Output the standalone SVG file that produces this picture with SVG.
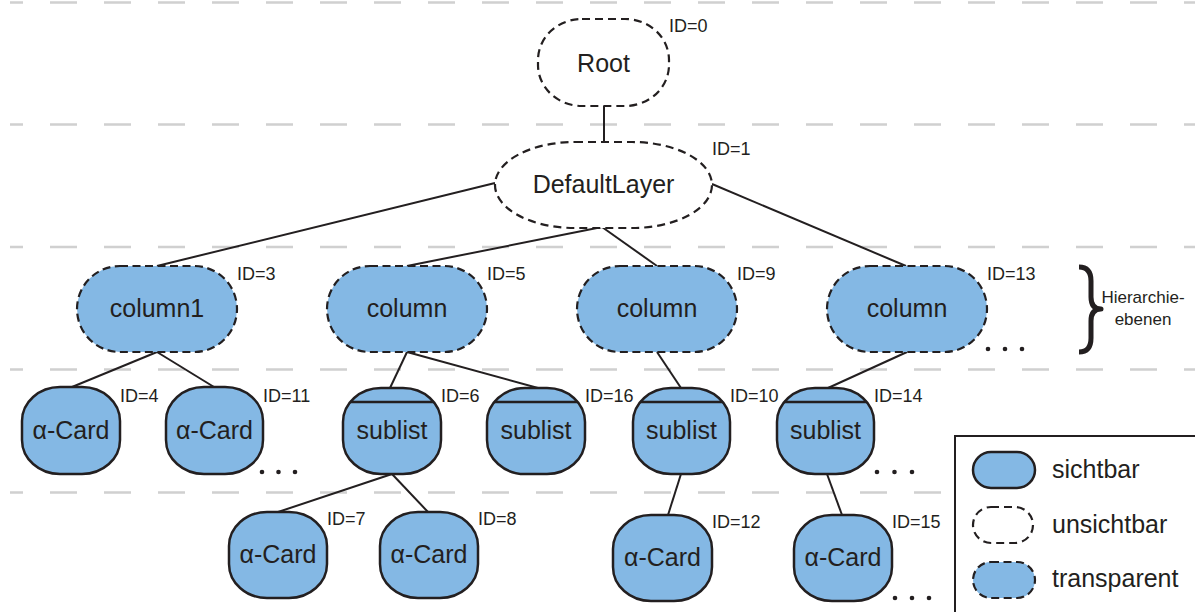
<svg xmlns="http://www.w3.org/2000/svg" width="1195" height="612" viewBox="0 0 1195 612">
  <style>
    .guide { stroke: #d0d0d0; stroke-width: 2.5; stroke-dasharray: 27 27; stroke-dashoffset: 14; fill: none; }
    .edge { stroke: #231f20; stroke-width: 2; fill: none; }
    .visible { fill: #84b8e4; stroke: #231f20; stroke-width: 2.5; }
    .invisible { fill: #ffffff; stroke: #231f20; stroke-width: 2.2; stroke-dasharray: 8 5; }
    .transparent { fill: #84b8e4; stroke: #231f20; stroke-width: 2.2; stroke-dasharray: 8 4.5; }
    .bar { stroke: #231f20; stroke-width: 2.5; }
    .label { font-family: "Liberation Sans", Arial, sans-serif; font-size: 25px; fill: #231f20; text-anchor: middle; }
    .id { font-family: "Liberation Sans", Arial, sans-serif; font-size: 18px; fill: #231f20; }
    .legend-text { font-family: "Liberation Sans", Arial, sans-serif; font-size: 25px; fill: #231f20; }
    .small { font-family: "Liberation Sans", Arial, sans-serif; font-size: 17px; fill: #231f20; text-anchor: middle; }
    .dot { fill: #231f20; }
  </style>

  <!-- hierarchy level separators -->
  <g id="levels">
    <line class="guide" x1="10" y1="2.5" x2="1195" y2="2.5"/>
    <line class="guide" x1="10" y1="124.5" x2="1195" y2="124.5"/>
    <line class="guide" x1="10" y1="247" x2="1195" y2="247"/>
    <line class="guide" x1="10" y1="369.5" x2="1195" y2="369.5"/>
    <line class="guide" x1="10" y1="492.5" x2="1195" y2="492.5"/>
  </g>

  <!-- tree edges -->
  <g id="connectors">
    <line class="edge" x1="604" y1="106" x2="604" y2="142"/>
    <line class="edge" x1="495" y1="183" x2="157" y2="266"/>
    <line class="edge" x1="602" y1="227" x2="407" y2="266"/>
    <line class="edge" x1="602" y1="227" x2="657" y2="266"/>
    <line class="edge" x1="712" y1="184" x2="906" y2="266"/>
    <line class="edge" x1="157" y1="352" x2="72" y2="387"/>
    <line class="edge" x1="157" y1="352" x2="214" y2="387"/>
    <line class="edge" x1="407" y1="352" x2="390" y2="388"/>
    <line class="edge" x1="407" y1="352" x2="538" y2="388"/>
    <line class="edge" x1="657" y1="352" x2="681" y2="388"/>
    <line class="edge" x1="907" y1="352" x2="828" y2="388"/>
    <line class="edge" x1="392" y1="474" x2="278" y2="512"/>
    <line class="edge" x1="392" y1="474" x2="428" y2="512"/>
    <line class="edge" x1="681" y1="474" x2="668" y2="515"/>
    <line class="edge" x1="827" y1="474" x2="842" y2="515"/>
  </g>

  <!-- level 0 -->
  <g id="node-root">
    <rect class="invisible" x="538" y="19" width="131" height="87" rx="44" ry="41"/>
    <text class="label" x="603.5" y="71.5">Root</text>
    <text class="id" x="669" y="32">ID=0</text>
  </g>

  <!-- level 1 -->
  <g id="node-defaultlayer">
    <rect class="invisible" x="495" y="142" width="217" height="86" rx="80" ry="43"/>
    <text class="label" x="603.5" y="193">DefaultLayer</text>
    <text class="id" x="712" y="155">ID=1</text>
  </g>

  <!-- level 2: columns -->
  <g id="node-3">
    <rect class="transparent" x="77" y="266" width="160" height="86" rx="43" ry="43"/>
    <text class="label" x="157" y="317">column1</text>
    <text class="id" x="237" y="280">ID=3</text>
  </g>
  <g id="node-5">
    <rect class="transparent" x="327" y="266" width="160" height="86" rx="43" ry="43"/>
    <text class="label" x="407" y="317">column</text>
    <text class="id" x="487" y="280">ID=5</text>
  </g>
  <g id="node-9">
    <rect class="transparent" x="577" y="266" width="160" height="86" rx="43" ry="43"/>
    <text class="label" x="657" y="317">column</text>
    <text class="id" x="737" y="280">ID=9</text>
  </g>
  <g id="node-13">
    <rect class="transparent" x="827" y="266" width="160" height="86" rx="43" ry="43"/>
    <text class="label" x="907" y="317">column</text>
    <text class="id" x="987" y="280">ID=13</text>
    <circle class="dot" cx="988" cy="349" r="2.3"/>
    <circle class="dot" cx="1005" cy="349" r="2.3"/>
    <circle class="dot" cx="1022" cy="349" r="2.3"/>
  </g>

  <!-- level 3 -->
  <g id="node-4">
    <rect class="visible" x="22" y="387" width="98" height="87" rx="38" ry="34"/>
    <text class="label" x="71" y="439">α-Card</text>
    <text class="id" x="120" y="402">ID=4</text>
  </g>
  <g id="node-11">
    <rect class="visible" x="166" y="387" width="97" height="87" rx="38" ry="34"/>
    <text class="label" x="214.5" y="439">α-Card</text>
    <text class="id" x="263" y="402">ID=11</text>
    <circle class="dot" cx="262" cy="472" r="2.3"/>
    <circle class="dot" cx="278.5" cy="472" r="2.3"/>
    <circle class="dot" cx="295" cy="472" r="2.3"/>
  </g>
  <g id="node-6">
    <rect class="visible" x="343" y="388" width="98" height="86" rx="38" ry="34"/>
    <line class="bar" x1="350" y1="402" x2="434" y2="402"/>
    <text class="label" x="392" y="439">sublist</text>
    <text class="id" x="441" y="402">ID=6</text>
  </g>
  <g id="node-16">
    <rect class="visible" x="487" y="388" width="98" height="86" rx="38" ry="34"/>
    <line class="bar" x1="494" y1="402" x2="578" y2="402"/>
    <text class="label" x="536" y="439">sublist</text>
    <text class="id" x="585" y="402">ID=16</text>
  </g>
  <g id="node-10">
    <rect class="visible" x="633" y="388" width="97" height="86" rx="38" ry="34"/>
    <line class="bar" x1="640" y1="402" x2="723" y2="402"/>
    <text class="label" x="681.5" y="439">sublist</text>
    <text class="id" x="730" y="402">ID=10</text>
  </g>
  <g id="node-14">
    <rect class="visible" x="777" y="388" width="97" height="86" rx="38" ry="34"/>
    <line class="bar" x1="784" y1="402" x2="867" y2="402"/>
    <text class="label" x="825.5" y="439">sublist</text>
    <text class="id" x="874" y="402">ID=14</text>
    <circle class="dot" cx="877" cy="472" r="2.3"/>
    <circle class="dot" cx="894.5" cy="472" r="2.3"/>
    <circle class="dot" cx="912" cy="472" r="2.3"/>
  </g>

  <!-- level 4 -->
  <g id="node-7">
    <rect class="visible" x="229" y="512" width="98" height="86" rx="38" ry="34"/>
    <text class="label" x="278" y="563">α-Card</text>
    <text class="id" x="327" y="525">ID=7</text>
  </g>
  <g id="node-8">
    <rect class="visible" x="380" y="512" width="98" height="86" rx="38" ry="34"/>
    <text class="label" x="429" y="563">α-Card</text>
    <text class="id" x="478" y="525">ID=8</text>
  </g>
  <g id="node-12">
    <rect class="visible" x="613" y="515" width="99" height="86" rx="38" ry="34"/>
    <text class="label" x="662.5" y="566">α-Card</text>
    <text class="id" x="712" y="528">ID=12</text>
  </g>
  <g id="node-15">
    <rect class="visible" x="794" y="515" width="98" height="86" rx="38" ry="34"/>
    <text class="label" x="843" y="566">α-Card</text>
    <text class="id" x="892" y="528">ID=15</text>
    <circle class="dot" cx="895" cy="598" r="2.3"/>
    <circle class="dot" cx="912" cy="598" r="2.3"/>
    <circle class="dot" cx="929" cy="598" r="2.3"/>
  </g>

  <!-- brace marking the hierarchy levels -->
  <g id="levels-brace">
    <path d="M1079,267 Q1091,267 1091,281 L1091,297 Q1091,309 1101,309 Q1091,309 1091,321 L1091,338 Q1091,352 1079,352" fill="none" stroke="#231f20" stroke-width="5" stroke-linejoin="round"/>
    <text class="small" x="1143" y="303">Hierarchie-</text>
    <text class="small" x="1143" y="325">ebenen</text>
  </g>

  <!-- legend -->
  <g id="legend">
    <rect x="955" y="436" width="262" height="200" fill="#ffffff" stroke="#231f20" stroke-width="2"/>
    <rect class="visible" x="973" y="452" width="62" height="36" rx="18" ry="18"/>
    <text class="legend-text" x="1052" y="478">sichtbar</text>
    <rect class="invisible" x="973" y="507" width="60" height="36" rx="18" ry="18"/>
    <text class="legend-text" x="1052" y="533">unsichtbar</text>
    <rect class="transparent" x="973" y="562" width="62" height="36" rx="18" ry="18"/>
    <text class="legend-text" x="1052" y="587">transparent</text>
  </g>
</svg>
